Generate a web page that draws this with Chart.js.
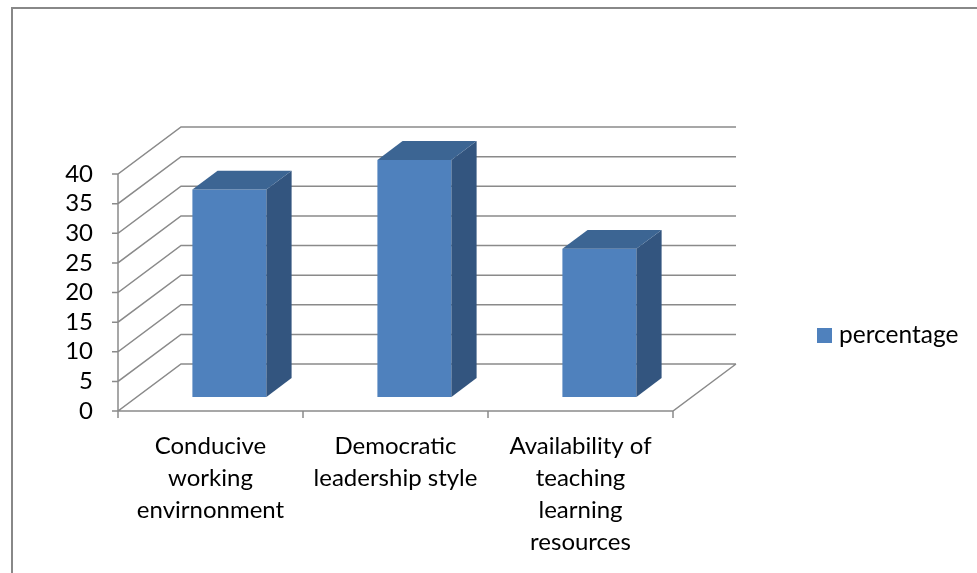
<!DOCTYPE html>
<html>
<head>
<meta charset="utf-8">
<script src="https://cdn.jsdelivr.net/npm/chart.js@4.4.1/dist/chart.umd.min.js"></script>
<style>
html, body { margin: 0; padding: 0; background: #fff; }
</style>
</head>
<body>
<canvas id="chart" width="977" height="573"></canvas>
<script>
// data
var categories = [
    ["Conducive", "working", "envirnonment"],
    ["Democratic", "leadership style"],
    ["Availability of", "teaching", "learning", "resources"]
];
var seriesName = "percentage";
var percentage = [35, 40, 25];
var yMin = 0, yMax = 40, yStep = 5;

// 3d look: back wall offset and bar depth
var DEPTH_X = 63, DEPTH_Y = 47;
var GAP_FRONT = 0.3, BAR_DEPTH = 0.4;
var gridColor = '#8a8a8a';
var frontColor = '#4F81BD', sideColor = '#33557F', topColor = '#3C6593';
var fontFamily = 'Lato, "Open Sans", sans-serif';

var threeD = {
    id: 'threeD',
    beforeDraw: function (chart) {
        var ctx = chart.ctx;
        ctx.save();
        ctx.fillStyle = '#fff';
        ctx.fillRect(0, 0, chart.width, chart.height);
        ctx.strokeStyle = '#888';
        ctx.lineWidth = 2;
        ctx.strokeRect(12, 8, chart.width + 10, chart.height + 10);
        ctx.restore();
    },
    beforeDatasetsDraw: function (chart) {
        var ctx = chart.ctx, a = chart.chartArea, ys = chart.scales.y, xs = chart.scales.x;
        ctx.save();
        ctx.strokeStyle = gridColor;
        ctx.lineWidth = 1.5;
        ctx.beginPath();
        // gridlines: tick, diagonal side wall, back wall
        ys.ticks.forEach(function (t) {
            var y = ys.getPixelForValue(t.value);
            ctx.moveTo(a.left - 6, y);
            ctx.lineTo(a.left, y);
            ctx.lineTo(a.left + DEPTH_X, y - DEPTH_Y);
            ctx.lineTo(a.right + DEPTH_X, y - DEPTH_Y);
        });
        // front value axis
        ctx.moveTo(a.left, ys.getPixelForValue(yMax));
        ctx.lineTo(a.left, a.bottom);
        // floor
        ctx.moveTo(a.left, a.bottom);
        ctx.lineTo(a.right, a.bottom);
        ctx.lineTo(a.right + DEPTH_X, a.bottom - DEPTH_Y);
        // category ticks
        for (var i = 0; i <= categories.length; i++) {
            var x = xs.getPixelForValue(i - 0.5);
            ctx.moveTo(x, a.bottom);
            ctx.lineTo(x, a.bottom + 7);
        }
        ctx.stroke();
        ctx.restore();

        // push the bar fronts back into the depth
        ctx.save();
        ctx.translate(DEPTH_X * GAP_FRONT, -DEPTH_Y * GAP_FRONT);
    },
    afterDatasetsDraw: function (chart) {
        var ctx = chart.ctx;
        ctx.restore();
        var ox = DEPTH_X * GAP_FRONT, oy = -DEPTH_Y * GAP_FRONT;
        var dx = DEPTH_X * BAR_DEPTH, dy = -DEPTH_Y * BAR_DEPTH;
        chart.getDatasetMeta(0).data.forEach(function (bar) {
            var p = bar.getProps(['x', 'y', 'base', 'width'], true);
            var l = p.x - p.width / 2 + ox, r = p.x + p.width / 2 + ox;
            var t = p.y + oy, b = p.base + oy;
            // side face
            ctx.fillStyle = sideColor;
            ctx.beginPath();
            ctx.moveTo(r, t);
            ctx.lineTo(r + dx, t + dy);
            ctx.lineTo(r + dx, b + dy);
            ctx.lineTo(r, b);
            ctx.closePath();
            ctx.fill();
            // top face
            ctx.fillStyle = topColor;
            ctx.beginPath();
            ctx.moveTo(l, t);
            ctx.lineTo(l + dx, t + dy);
            ctx.lineTo(r + dx, t + dy);
            ctx.lineTo(r, t);
            ctx.closePath();
            ctx.fill();
        });
    },
    afterDraw: function (chart) {
        // legend on the right
        var ctx = chart.ctx;
        ctx.save();
        ctx.fillStyle = frontColor;
        ctx.fillRect(817, 328, 15, 15);
        ctx.fillStyle = '#000';
        ctx.font = '24.5px ' + fontFamily;
        ctx.textBaseline = 'middle';
        ctx.textAlign = 'left';
        ctx.fillText(chart.data.datasets[0].label, 839, 335);
        ctx.restore();
    }
};

var ctx = document.getElementById("chart").getContext("2d");
var chart = new Chart(ctx, {
    type: 'bar',
    data: {
        labels: categories,
        datasets: [{
            label: seriesName,
            data: percentage,
            backgroundColor: frontColor,
            borderWidth: 0,
            barPercentage: 0.4,
            categoryPercentage: 1.0,
            clip: false
        }]
    },
    options: {
        responsive: false,
        animation: false,
        layout: {
            padding: { left: 0, top: 174, right: 304, bottom: 0 }
        },
        plugins: {
            legend: { display: false },
            tooltip: { enabled: false }
        },
        scales: {
            x: {
                grid: { display: false, drawTicks: false },
                border: { display: false },
                ticks: {
                    color: '#000',
                    font: { family: fontFamily, size: 24, lineHeight: '32px' },
                    padding: 19,
                    maxRotation: 0,
                    minRotation: 0,
                    autoSkip: false
                },
                afterFit: function (scale) { scale.height = 162; }
            },
            y: {
                min: yMin,
                max: yMax,
                grid: { display: false, drawTicks: false },
                border: { display: false },
                ticks: {
                    stepSize: yStep,
                    autoSkip: false,
                    maxTicksLimit: 20,
                    color: '#000',
                    font: { family: fontFamily, size: 24, lineHeight: 1 },
                    padding: 25
                },
                afterFit: function (scale) { scale.width = 118; }
            }
        }
    },
    plugins: [threeD]
});
</script>
</body>
</html>
